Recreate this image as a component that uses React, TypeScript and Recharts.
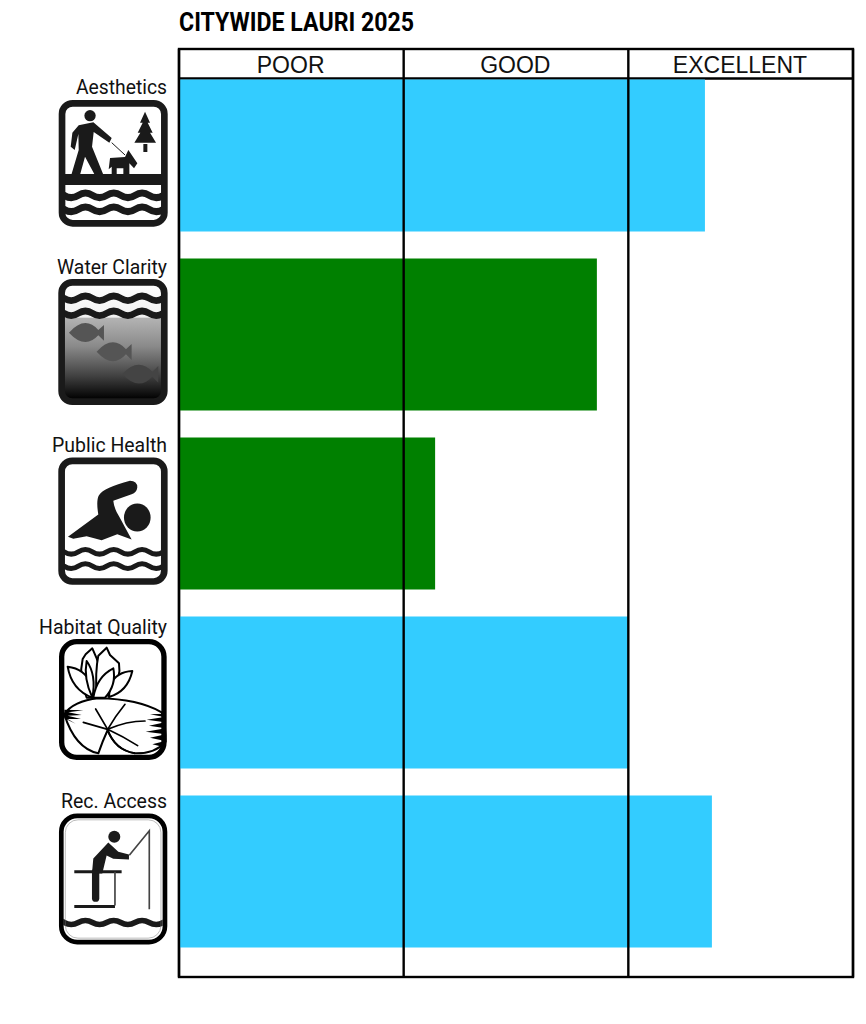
import React from "react";
import { BarChart, Bar, XAxis, YAxis, Cell, ReferenceLine } from "recharts";

const categories = ["Aesthetics", "Water Clarity", "Public Health", "Habitat Quality", "Rec. Access"];
const scores = [2.341, 1.86, 1.14, 2.0, 2.372];
const barColors = ["#33CCFF", "#008000", "#008000", "#33CCFF", "#33CCFF"];
const ratingLabels = ["POOR", "GOOD", "EXCELLENT"];
const ratingTicks = [0.5, 1.5, 2.5];
const ratingDividers = [0, 1, 2, 3];
const chartTitle = "CITYWIDE LAURI 2025";

const data = categories.map((name, i) => ({ name, score: scores[i], fill: barColors[i] }));

const INK = "#1a1a1a";

const wave = (y: number, x0: number, n: number, w: number, a: number) => {
  let d = `M${x0} ${y}`;
  for (let i = 0; i < n; i++) {
    d += ` q${w / 4} ${-a} ${w / 2} 0 q${w / 4} ${a} ${w / 2} 0`;
  }
  return d;
};

const Frame = ({ x, y, w, h, r, sw, stroke = INK }: any) => (
  <rect x={x} y={y} width={w} height={h} rx={r} fill="none" stroke={stroke} strokeWidth={sw} />
);

const IconAesthetics = () => (
  <g>
    <rect x="186" y="310" width="307" height="360" rx="35" fill="#fff" />
    <circle cx="270" cy="347" r="17" fill={INK} />
    <path fill={INK} d="M236 376 L280 367 L335 414 L328 428 L281 396 L276 440 L310 524 L284 524 L255 470 L240 524 L214 524 L236 450 L235 402 L224 450 L212 440 L217 398 Z" />
    <path stroke={INK} strokeWidth="3" d="M335 428 L375 465" />
    <path fill={INK} d="M330 474 L375 471 L385 450 L412 490 L402 505 L388 490 L388 522 L370 522 L370 505 L350 505 L350 522 L335 522 L335 500 L326 508 Z" />
    <path fill={INK} d="M435 335 L450 368 L443 368 L458 398 L450 398 L468 428 L403 428 L421 398 L413 398 L428 368 L420 368 Z" />
    <rect x="430" y="432" width="12" height="24" fill={INK} />
    <rect x="190" y="522" width="300" height="33" fill={INK} />
    <clipPath id="c1"><rect x="190" y="555" width="300" height="110" /></clipPath>
    <g clipPath="url(#c1)" fill="none" stroke={INK} strokeWidth="21">
      <path d={wave(586, 150, 5, 85, 14)} />
      <path d={wave(628, 150, 5, 85, 14)} />
    </g>
    <Frame x={186} y={310} w={307} h={360} r={32} sw={20} />
  </g>
);

const IconWater = () => (
  <g>
    <defs>
      <linearGradient id="depth" x1="0" y1="0" x2="0" y2="1">
        <stop offset="0" stopColor="#b4b4b4" />
        <stop offset="0.35" stopColor="#8a8a8a" />
        <stop offset="0.7" stopColor="#444" />
        <stop offset="1" stopColor="#000" />
      </linearGradient>
      <linearGradient id="sky" x1="0" y1="0" x2="0" y2="1">
        <stop offset="0" stopColor="#fff" />
        <stop offset="1" stopColor="#ccc" />
      </linearGradient>
    </defs>
    <rect x="95" y="97" width="308" height="358" rx="35" fill="url(#sky)" />
    <rect x="100" y="203" width="298" height="245" fill="url(#depth)" />
    <path fill="#555" d="M117 248 Q165 195 205 240 L222 225 L222 272 L205 256 Q165 300 117 248 Z" />
    <path fill="#555" d="M200 305 Q248 253 288 298 L305 282 L305 330 L288 313 Q248 358 200 305 Z" />
    <path fill="#444" d="M277 372 Q325 320 367 365 L385 348 L385 398 L367 380 Q325 425 277 372 Z" />
    <clipPath id="c2"><rect x="100" y="100" width="298" height="110" /></clipPath>
    <g clipPath="url(#c2)" fill="none" stroke={INK} strokeWidth="20">
      <path d={wave(145, 60, 5, 85, 14)} />
      <path d={wave(190, 60, 5, 85, 14)} />
    </g>
    <Frame x={95} y={97} w={308} h={358} r={32} sw={20} />
  </g>
);

const IconSwim = () => (
  <g>
    <rect x="95" y="632" width="308" height="362" rx="35" fill="#fff" />
    <ellipse cx="322" cy="802" rx="40" ry="42" fill={INK} />
    <path fill={INK} d="M114 860 L205 793 Q198 750 207 735 Q222 712 300 692 Q322 692 322 712 Q320 728 305 732 L250 752 Q252 775 268 800 L305 868 L262 852 L215 870 L170 858 L130 866 Z" />
    <clipPath id="c3"><rect x="100" y="880" width="298" height="110" /></clipPath>
    <g clipPath="url(#c3)" fill="none" stroke={INK} strokeWidth="15">
      <path d={wave(905, 60, 5, 85, 14)} />
      <path d={wave(948, 60, 5, 85, 14)} />
    </g>
    <Frame x={95} y={632} w={308} h={362} r={32} sw={20} />
  </g>
);

const IconLily = () => (
  <g>
    <rect x="20" y="20" width="307" height="347" rx="45" fill="#fff" />
    <g fill="#fff" stroke="#000" strokeWidth="6" strokeLinejoin="round">
      <path d="M83 72 L92 58 L112 40 L125 70 Q145 120 118 188 L95 188 Q70 130 83 72 Z" />
      <path d="M130 62 L155 38 L165 60 L192 85 Q200 130 165 180 L125 188 Q120 110 130 62 Z" />
      <path d="M38 95 Q88 100 112 150 L112 188 Q50 165 38 95 Z" />
      <path d="M232 108 Q185 110 165 150 L162 186 Q218 170 232 108 Z" />
      <path d="M95 78 Q125 120 112 188 Q85 130 95 78 Z" />
      <path d="M175 100 Q125 125 115 188 L150 188 Q185 150 175 100 Z" />
      <path d="M28 238 Q55 198 130 190 Q250 192 320 232 Q335 280 330 322 Q300 356 240 355 Q180 345 158 285 Q142 320 130 355 Q60 340 28 238 Z" />
      <path d="M158 285 Q180 345 240 355" fill="none" />
    </g>
    <g fill="none" stroke="#000" strokeWidth="5" strokeLinecap="round">
      <path d="M158 283 L122 222" />
      <path d="M158 283 Q180 245 210 208" />
      <path d="M158 283 Q120 272 85 262" />
      <path d="M158 283 Q215 258 270 258" />
      <path d="M158 283 Q205 305 248 332" />
    </g>
    <g fill="#000">
      <path d="M28 224 L85 226 L40 232 L80 240 L38 242 L78 252 L38 252 L62 266 L28 250 Z" />
      <path d="M330 236 L285 238 L328 246 L275 254 L330 262 L282 272 L332 280 L272 290 L332 298 L285 308 L330 318 L292 328 L325 336 L335 320 Z" />
    </g>
    <Frame x={20} y={20} w={307} h={347} r={45} sw={16} stroke="#000" />
  </g>
);

const IconFishing = () => (
  <g>
    <rect x="94" y="617" width="311" height="379" rx="50" fill="#fff" />
    <circle cx="253" cy="680" r="18" fill={INK} />
    <path fill={INK} d="M186 790 L190 745 L235 697 L265 725 L297 733 L297 748 L250 746 L230 736 L217 790 Z" />
    <path stroke={INK} strokeWidth="22" strokeLinecap="round" d="M197 785 L197 864" />
    <path stroke={INK} strokeWidth="9" d="M133 785 L275 785 M133 889 L255 889" />
    <path stroke="#444" strokeWidth="5" fill="none" d="M255 785 L255 886 M298 735 L358 662 L358 897" />
    <clipPath id="c5"><rect x="100" y="905" width="298" height="60" /></clipPath>
    <g clipPath="url(#c5)" fill="none" stroke={INK} strokeWidth="17">
      <path d={wave(937, 60, 5, 85, 12)} />
    </g>
    <Frame x={94} y={617} w={311} h={379} r={48} sw={14} stroke="#000" />
    <rect x="106" y="629" width="287" height="355" rx="38" fill="none" stroke="#777" strokeWidth="1.5" />
  </g>
);

// icon placement per category, as offsets from the band centre
const ICONS = [
  { el: <IconAesthetics />, ox: 176, oy: 300, left: 58.7, dy: -55, labelDy: -61, len: 91 },
  { el: <IconWater />, ox: 85, oy: 87, left: 58.3, dy: -55, labelDy: -60.5, len: 110 },
  { el: <IconSwim />, ox: 85, oy: 622, left: 58.3, dy: -55.5, labelDy: -61, len: 115 },
  { el: <IconLily />, ox: 12, oy: 12, left: 59, dy: -53, labelDy: -58, len: 128 },
  { el: <IconFishing />, ox: 85, oy: 610, left: 58.3, dy: -57.5, labelDy: -63, len: 106 },
];

const CategoryTick = ({ y, index, payload }: any) => {
  const c = ICONS[index];
  return (
    <g>
      <text
        x={167}
        y={y + c.labelDy}
        textAnchor="end"
        fontFamily="Roboto"
        fontSize={21}
        fill="#111"
        textLength={c.len}
        lengthAdjust="spacingAndGlyphs"
      >
        {payload.value}
      </text>
      <g transform={`translate(${c.left} ${y + c.dy}) scale(0.3333) translate(${-c.ox} ${-c.oy})`}>{c.el}</g>
    </g>
  );
};

export default function App() {
  return (
    <div style={{ position: "absolute", left: 0, top: 0, width: 866, height: 1024, background: "#fff" }}>
      <BarChart
        width={866}
        height={1024}
        data={data}
        layout="vertical"
        margin={{ top: 49, right: 13, bottom: 47, left: 0 }}
      >
        <XAxis
          type="number"
          orientation="top"
          mirror
          domain={[0, 3]}
          ticks={ratingTicks}
          tickFormatter={(v: number) => ratingLabels[ratingTicks.indexOf(v)]}
          axisLine={false}
          tickLine={false}
          tickMargin={1}
          tick={{ fill: "#111", fontSize: 23, fontFamily: "Liberation Sans", dy: 1, dx: -0.7 }}
          interval={0}
        />
        <YAxis
          type="category"
          dataKey="name"
          width={179}
          axisLine={false}
          tickLine={false}
          padding={{ top: 16.5, bottom: 16.5 }}
          tick={<CategoryTick />}
          interval={0}
        />
        <rect x={179} y={49} width={674} height={928} fill="#fff" stroke="#000" strokeWidth={2.4} />
        <Bar dataKey="score" barSize={152} isAnimationActive={false}>
          {data.map((d) => (
            <Cell key={d.name} fill={d.fill} />
          ))}
        </Bar>
        {ratingDividers.map((v) => (
          <ReferenceLine key={v} x={v} stroke="#000" strokeWidth={2.4} />
        ))}
        <line x1={179} x2={853} y1={78.5} y2={78.5} stroke="#000" strokeWidth={2.4} />
        <text
          x={179}
          y={30.5}
          fontFamily="Roboto"
          fontWeight={700}
          fontSize={26}
          fill="#000"
          textLength={235}
          lengthAdjust="spacingAndGlyphs"
        >
          {chartTitle}
        </text>
      </BarChart>
    </div>
  );
}
